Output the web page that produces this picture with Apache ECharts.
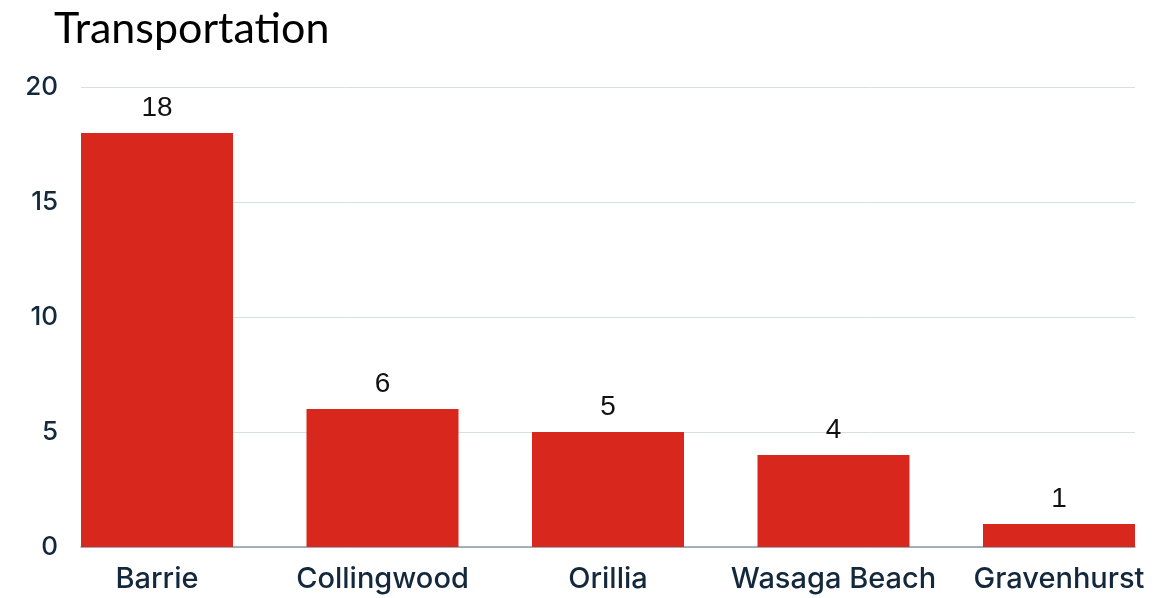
<!DOCTYPE html>
<html>
<head>
<meta charset="utf-8">
<script src="https://cdn.jsdelivr.net/npm/echarts@6/dist/echarts.min.js"></script>
<style>html,body{margin:0;padding:0;background:#fff}#c{width:1175px;height:598px}</style>
</head>
<body>
<div id="c"></div>
<script>
const titleText = "Transportation";
const categories = ["Barrie", "Collingwood", "Orillia", "Wasaga Beach", "Gravenhurst"];
const values = [18, 6, 5, 4, 1];
const yMin = 0, yMax = 20, yInterval = 5;

const chart = echarts.init(document.getElementById('c'), null, {renderer: 'canvas'});
const labelColor = '#13283c';
chart.setOption({
  animation: false,
  backgroundColor: '#ffffff',
  title: {
    text: titleText, left: 49, top: 3,
    textStyle: {fontFamily: 'Lato', fontWeight: 'normal', fontSize: 43, color: '#000'}
  },
  grid: [
    {left: 81, right: 40, top: 87, bottom: 51},
    {left: 44.25, right: 3.25, top: 87, bottom: 51}
  ],
  xAxis: [
    {gridIndex: 0, type: 'value', min: 0, max: 1, axisLabel: {show: false}, axisTick: {show: false}, splitLine: {show: false},
     axisLine: {show: true, lineStyle: {color: '#8f9ba6', width: 1.5}}},
    {gridIndex: 1, type: 'category', data: categories, axisLine: {show: false}, axisTick: {show: false},
     axisLabel: {interval: 0, hideOverlap: false, margin: 18, fontFamily: 'Inter', fontWeight: 500, fontSize: 29, color: labelColor}}
  ],
  yAxis: [
    {gridIndex: 0, type: 'value', min: yMin, max: yMax, interval: yInterval,
     axisLine: {show: false}, axisTick: {show: false},
     axisLabel: {margin: 23, fontFamily: 'Inter', fontWeight: 500, fontSize: 26, color: labelColor},
     splitLine: {lineStyle: {color: '#d9dee3', width: 1}}},
    {gridIndex: 1, type: 'value', min: yMin, max: yMax, interval: yInterval, show: false, splitLine: {show: false}}
  ],
  series: [{
    type: 'bar', xAxisIndex: 1, yAxisIndex: 1, data: values, barWidth: 152,
    itemStyle: {color: '#d8281d'},
    label: {show: true, position: 'top', distance: 11, fontFamily: 'Liberation Sans', fontSize: 28, color: '#111'}
  }]
});
</script>
</body>
</html>
